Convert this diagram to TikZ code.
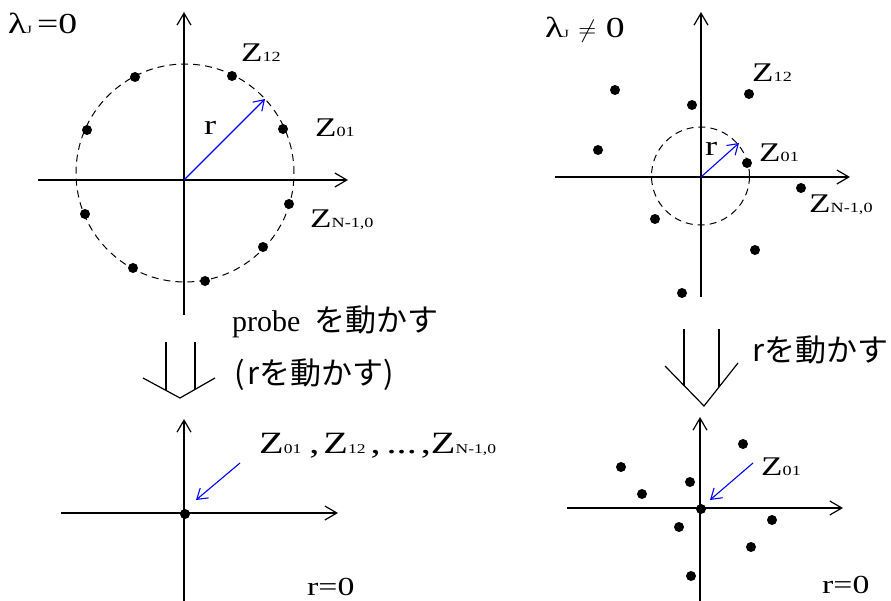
\documentclass[tikz,border=0pt]{standalone}
\usepackage{fontspec}
\setmainfont{Liberation Serif}[FakeStretch=1.3]
\newfontfamily\plain{Liberation Serif}
\newfontfamily\jp{Noto Sans CJK JP}
\usetikzlibrary{arrows.meta}
\newcommand{\sbs}[1]{{\fontsize{14}{14}\selectfont #1}}
\newcommand{\sbl}[1]{{\fontsize{13.5}{14}\selectfont #1}}
\newcommand{\sbj}[1]{{\fontsize{11}{11}\selectfont #1}}
\begin{document}
\begin{tikzpicture}[x=1pt,y=-1pt,
 axis/.style={line width=1.2pt,-{Straight Barb[length=12pt,width=14pt,line width=1.2pt]}},
 probearrow/.style={blue,line width=1.1pt,-{Straight Barb[length=10pt,width=13pt,line width=1.1pt]}},
 dot/.style={circle,fill=black,inner sep=0pt,minimum size=10pt},
 lbl/.style={anchor=base west,inner sep=0pt,font=\fontsize{27}{30}\selectfont},
 rlbl/.style={anchor=base west,inner sep=0pt,font=\fontsize{28}{30}\selectfont},
 lam/.style={anchor=base west,inner sep=0pt,font=\fontsize{29}{30}\selectfont},
 jlbl/.style={anchor=base west,inner sep=0pt,font=\jp\fontsize{31}{34}\selectfont},
 hollow/.style={line width=1.2pt},
 ring/.style={line width=1pt,dash pattern=on 7pt off 5pt}]
\useasboundingbox (0,0) rectangle (891,601);

% ---------- top left ----------
\coordinate (LAx0) at (38,180); \coordinate (LAx1) at (348,180);
\coordinate (LAy0) at (184,315); \coordinate (LAy1) at (184,12);
\draw[ring] (185,173) circle[radius=109pt];
\draw[axis] (LAx0) -- (LAx1);
\draw[axis] (LAy0) -- (LAy1);
\node[dot] (LAd1) at (135,77) {};
\node[dot] (LAd2) at (232,76) {};
\node[dot] (LAd3) at (87,130) {};
\node[dot] (LAd4) at (283,129) {};
\node[dot] (LAd5) at (85,214) {};
\node[dot] (LAd6) at (289,204) {};
\node[dot] (LAd7) at (133,268) {};
\node[dot] (LAd8) at (263,247) {};
\node[dot] (LAd9) at (205,281) {};
\coordinate (LAo) at (184,180); \coordinate (LAr) at (265,99);
\draw[probearrow] (LAo) -- (LAr);
\node[lam] (LAlam) at (8,34) {λ\sbj{J}\hspace{5pt}=0};
\node[lbl] (LAz12) at (241,62) {Z\sbs{12}};
\node[rlbl] (LAr0) at (204,135) {r};
\node[lbl] (LAz01) at (315,137) {Z\sbs{01}};
\node[lbl] (LAzn) at (310,228) {Z\sbs{N-1,0}};

% ---------- top right ----------
\coordinate (RAx0) at (555,177); \coordinate (RAx1) at (850,177);
\coordinate (RAy0) at (701,297); \coordinate (RAy1) at (701,12);
\draw[ring] (700.5,176) circle[radius=49pt];
\draw[axis] (RAx0) -- (RAx1);
\draw[axis] (RAy0) -- (RAy1);
\node[dot] (RAd1) at (615,90) {};
\node[dot] (RAd2) at (692,105) {};
\node[dot] (RAd3) at (749,94) {};
\node[dot] (RAd4) at (598,150) {};
\node[dot] (RAd5) at (747,163) {};
\node[dot] (RAd6) at (801,188) {};
\node[dot] (RAd7) at (655,219) {};
\node[dot] (RAd8) at (755,250) {};
\node[dot] (RAd9) at (682,293) {};
\coordinate (RAo) at (701,177); \coordinate (RAr) at (739,143);
\draw[probearrow] (RAo) -- (RAr);
\node[lam] (RAlam) at (545,38) {λ\sbj{J} $\neq$ 0};
\node[lbl] (RAz12) at (752,82) {Z\sbs{12}};
\node[rlbl] (RAr0) at (705,156) {r};
\node[lbl] (RAz01) at (759,162) {Z\sbs{01}};
\node[lbl] (RAzn) at (809,213) {Z\sbs{N-1,0}};

% ---------- hollow arrows ----------
\coordinate (LHa) at (166,342); \coordinate (LHb) at (166,390.4);
\coordinate (LHc) at (195,342); \coordinate (LHd) at (195,389.4);
\coordinate (LHl) at (143,378); \coordinate (LHt) at (180,398); \coordinate (LHr) at (215,378);
\draw[hollow] (LHa) -- (LHb);
\draw[hollow] (LHc) -- (LHd);
\draw[hollow] (LHl) -- (LHt) -- (LHr);
\coordinate (RHa) at (684,329); \coordinate (RHb) at (684,385.5);
\coordinate (RHc) at (719,329); \coordinate (RHd) at (719,387);
\coordinate (RHl) at (665,366); \coordinate (RHt) at (704,406); \coordinate (RHr) at (738,363);
\draw[hollow] (RHa) -- (RHb);
\draw[hollow] (RHc) -- (RHd);
\draw[hollow] (RHl) -- (RHt) -- (RHr);
\node[anchor=base west,inner sep=0pt,font=\plain\fontsize{30}{34}\selectfont] (LTa) at (232,332) {probe\hspace{14pt}{\jp\fontsize{31}{34}\selectfont を動かす}};
\node[jlbl] (LTb) at (234,384) {(\hspace{3pt}rを動かす)};
\node[jlbl] (RT) at (752,362) {rを動かす};

% ---------- bottom left ----------
\coordinate (LBx0) at (61,513); \coordinate (LBx1) at (338,513);
\coordinate (LBy0) at (184,601); \coordinate (LBy1) at (184,419);
\draw[axis] (LBx0) -- (LBx1);
\draw[axis] (LBy0) -- (LBy1);
\node[dot] (LBd) at (185,514) {};
\coordinate (LBs) at (240,463); \coordinate (LBe) at (196,500);
\draw[probearrow] (LBs) -- (LBe);
\node[anchor=base west,inner sep=0pt,font=\fontsize{31}{34}\selectfont] (LBz) at (259,453) {Z\sbl{01}\hspace{8pt},\hspace{4pt}Z\sbl{12}\hspace{5pt},\hspace{6pt}...\hspace{4pt},Z\sbl{N-1,0}};
\node[rlbl,font=\fontsize{26}{30}\selectfont] (LBr) at (307,595) {r=0};

% ---------- bottom right ----------
\coordinate (RBx0) at (567,508); \coordinate (RBx1) at (843,508);
\coordinate (RBy0) at (700,601); \coordinate (RBy1) at (700,417);
\draw[axis] (RBx0) -- (RBx1);
\draw[axis] (RBy0) -- (RBy1);
\node[dot] (RBd1) at (743,444) {};
\node[dot] (RBd2) at (621,467) {};
\node[dot] (RBd3) at (690,482) {};
\node[dot] (RBd4) at (642,494) {};
\node[dot] (RBd5) at (701,509) {};
\node[dot] (RBd6) at (772,520) {};
\node[dot] (RBd7) at (679,527) {};
\node[dot] (RBd8) at (751,547) {};
\node[dot] (RBd9) at (691,576) {};
\coordinate (RBs) at (753,463); \coordinate (RBe) at (710,500);
\draw[probearrow] (RBs) -- (RBe);
\node[lbl] (RBz) at (761,475) {Z\sbs{01}};
\node[rlbl,font=\fontsize{26}{30}\selectfont] (RBr) at (822,593) {r=0};
\end{tikzpicture}
\end{document}
